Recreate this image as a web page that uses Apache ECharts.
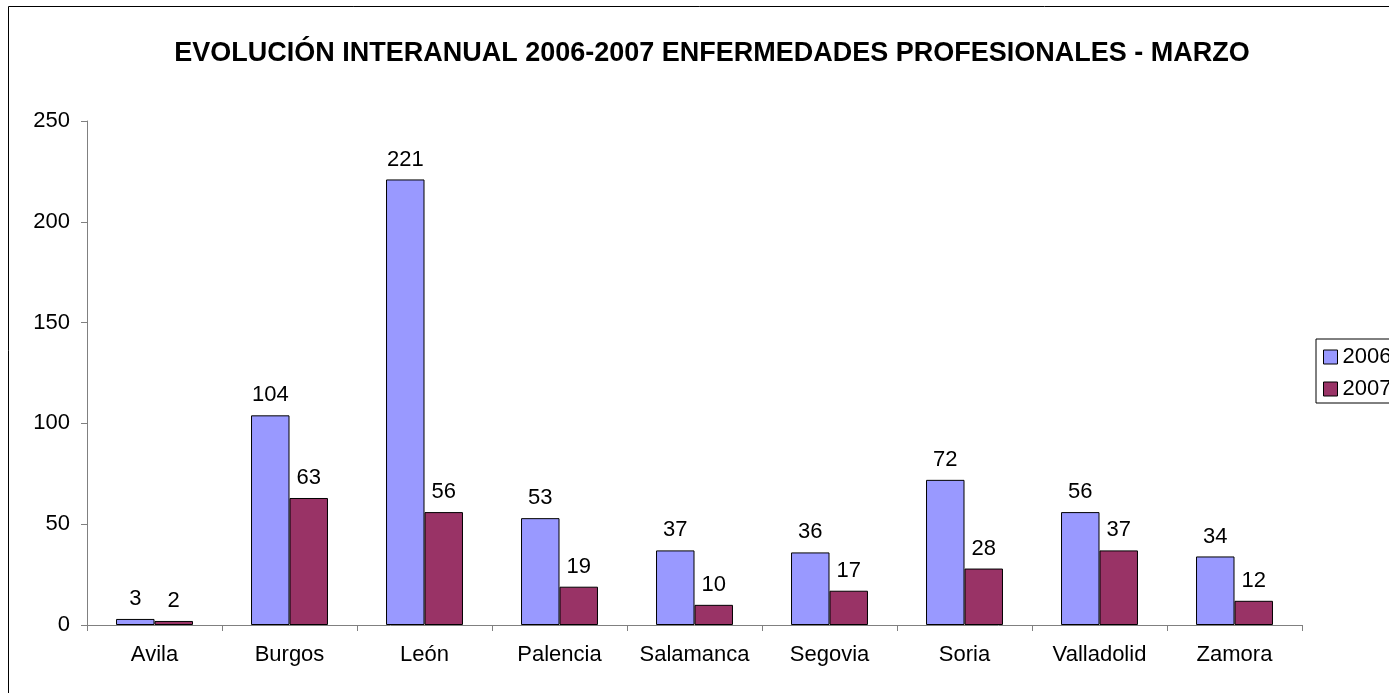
<!DOCTYPE html>
<html>
<head>
<meta charset="utf-8">
<title>Evolución interanual 2006-2007</title>
<script src="https://cdn.jsdelivr.net/npm/echarts@6/dist/echarts.min.js"></script>
<style>
  html, body { margin: 0; padding: 0; background: #fff; }
  #main { width: 1389px; height: 693px; }
</style>
</head>
<body>
<div id="main"></div>
<script>
'use strict';

const provincias = ['Avila', 'Burgos', 'León', 'Palencia', 'Salamanca', 'Segovia', 'Soria', 'Valladolid', 'Zamora'];
const valores2006 = [3, 104, 221, 53, 37, 36, 72, 56, 34];
const valores2007 = [2, 63, 56, 19, 10, 17, 28, 37, 12];
const seriesNames = ['2006', '2007'];
const colors = ['#9999FF', '#993366'];

const font = 'Liberation Sans, Arial, sans-serif';
const axisGray = '#808080';

function barSeries(name, data, color) {
  return {
    name: name,
    type: 'bar',
    data: data,
    barWidth: '28.5%',
    barGap: '0%',
    itemStyle: { color: color, borderColor: '#000', borderWidth: 1 },
    label: {
      show: true,
      position: 'top',
      distance: 9,
      color: '#000',
      fontFamily: font,
      fontSize: 22
    }
  };
}

const chart = echarts.init(document.getElementById('main'), null, { renderer: 'canvas' });
chart.setOption({
  animation: false,
  backgroundColor: '#fff',
  title: {
    text: 'EVOLUCIÓN INTERANUAL 2006-2007 ENFERMEDADES PROFESIONALES - MARZO',
    left: 712,
    textAlign: 'center',
    top: 40,
    padding: 0,
    textStyle: { fontFamily: font, fontSize: 27, fontWeight: 'bold', color: '#000' }
  },
  graphic: [{
    type: 'rect',
    shape: { x: 8.5, y: 6.5, width: 1400, height: 720 },
    style: { fill: 'none', stroke: '#000', lineWidth: 1 },
    silent: true
  }],
  legend: {
    orient: 'vertical',
    left: 1316,
    top: 339,
    icon: 'rect',
    itemWidth: 14,
    itemHeight: 14,
    itemGap: 10,
    padding: [7, 8, 3, 7],
    borderColor: '#000',
    borderWidth: 1,
    textStyle: { fontFamily: font, fontSize: 22, lineHeight: 22, color: '#000' },
    itemStyle: { borderColor: '#000', borderWidth: 1 },
    data: seriesNames
  },
  grid: { left: 87, right: 87, top: 121, bottom: 68 },
  xAxis: {
    type: 'category',
    data: provincias,
    axisLine: { lineStyle: { color: axisGray, width: 1 } },
    axisTick: { show: true, length: 6, lineStyle: { color: axisGray } },
    axisLabel: { color: '#000', fontFamily: font, fontSize: 22, margin: 19, interval: 0 }
  },
  yAxis: {
    type: 'value',
    min: 0,
    max: 250,
    interval: 50,
    axisLine: { show: true, lineStyle: { color: axisGray, width: 1 } },
    axisTick: { show: true, length: 6, lineStyle: { color: axisGray } },
    splitLine: { show: false },
    axisLabel: { color: '#000', fontFamily: font, fontSize: 22, margin: 17 }
  },
  series: [
    barSeries(seriesNames[0], valores2006, colors[0]),
    barSeries(seriesNames[1], valores2007, colors[1])
  ]
});
</script>
</body>
</html>
